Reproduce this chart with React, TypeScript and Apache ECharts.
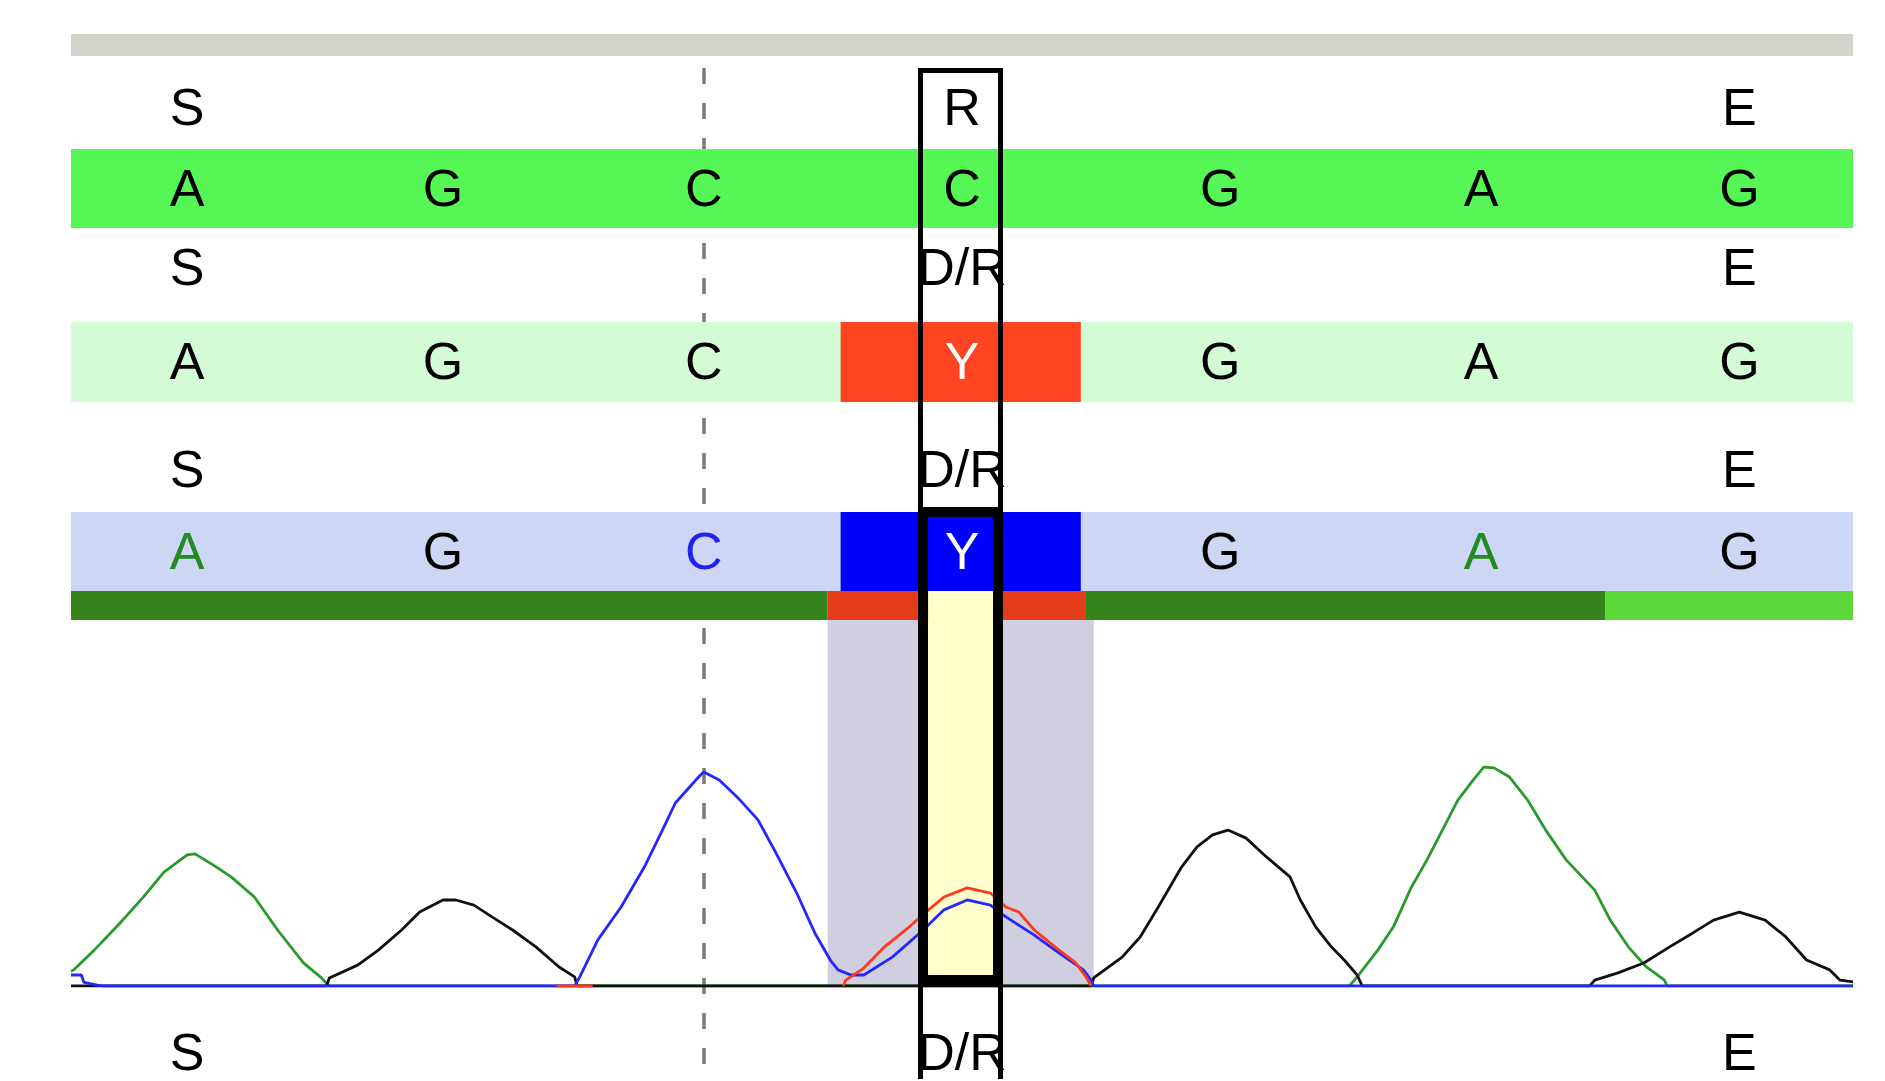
import React, { useEffect, useRef } from 'react';
import * as echarts from 'echarts';

// ---------- data (scan units along the trace, intensity 0..1000) ----------
const scanRange = [0, 690];
const basePositions = [45, 144, 245, 345, 445, 546, 646];
const referenceCalls = ['A', 'G', 'C', 'C', 'G', 'A', 'G'];
const sample1Calls = ['A', 'G', 'C', 'Y', 'G', 'A', 'G'];
const sample2Calls = ['A', 'G', 'C', 'Y', 'G', 'A', 'G'];
const referenceMarks = ['S', '', '', 'R', '', '', 'E'];
const sampleMarks = ['S', '', '', 'D/R', '', '', 'E'];
const mixedCallRange = [298, 391];
const qualityStarts = [0, 293, 393, 594];
const qualityEnds = [293, 393, 594, 690];
const qualityLevels = ['good', 'poor', 'good', 'high'];
const shadeRange = [293, 396];
const focusRange = [328, 361];
const guidePosition = 245;

const traceA = [
  [0, 40], [1, 44], [9, 98], [19, 172], [28, 243], [36, 311], [45, 358], [48, 361], [55, 331], [62, 298],
  [71, 243], [80, 153], [90, 63], [97, 22], [100, 0], [495, 0], [498, 25], [506, 98], [512, 161], [519, 270],
  [525, 344], [531, 426], [537, 508], [543, 563], [547, 598], [551, 596], [557, 571], [564, 508], [571, 426],
  [579, 344], [590, 262], [596, 180], [603, 107], [610, 52], [617, 16], [618, 0], [690, 0],
];
const traceG = [
  [0, 0], [99, 0], [100, 22], [111, 57], [119, 98], [128, 153], [135, 202], [144, 235], [149, 235], [156, 221],
  [163, 189], [171, 153], [180, 107], [189, 52], [195, 25], [196, 0], [395, 0], [396, 22], [407, 79], [414, 134],
  [421, 216], [430, 325], [436, 380], [442, 413], [448, 426], [455, 404], [463, 352], [472, 298], [476, 235],
  [482, 161], [488, 107], [493, 71], [498, 30], [500, 0], [588, 0], [590, 16], [599, 36], [609, 63], [619, 107],
  [628, 145], [636, 180], [646, 202], [656, 180], [664, 134], [672, 71], [681, 44], [685, 16], [690, 11],
];
const traceC = [
  [0, 30], [4, 30], [5, 10], [12, 0], [195, 0], [197, 25], [204, 126], [213, 216], [222, 325], [229, 426],
  [234, 500], [243, 571], [245, 585], [251, 563], [258, 516], [266, 454], [273, 363], [281, 254], [288, 145],
  [294, 71], [297, 44], [302, 30], [307, 30], [318, 79], [330, 153], [338, 208], [347, 235], [356, 221],
  [362, 189], [373, 139], [381, 98], [392, 44], [395, 16], [396, 0], [690, 0],
];
const traceT = [
  [188, 0], [202, 0], [250, '-'], [299, 0], [300, 16], [307, 49], [315, 107], [324, 158], [331, 202],
  [338, 243], [347, 268], [356, 254], [362, 216], [367, 202], [373, 153], [381, 107], [389, 63], [393, 25], [395, 0],
];

// ---------- layout & style ----------
const W = 1885;
const H = 1081;
const GRID_LEFT = 71;
const GRID_W = 1782;
const FONT = '"Liberation Sans", Arial, sans-serif';
const FONT_SIZE = 52;
const BAND_ROWS = [
  { y0: 34, y1: 56, color: '#D5D4CC' },
  { y0: 149, y1: 228, color: '#55F655' },
  { y0: 322, y1: 402, color: '#D4FCD4' },
  { y0: 512, y1: 591, color: '#CDD6F5' },
];
const CELL_ROWS = [
  { y0: 322, y1: 402, color: '#FF4422' },
  { y0: 512, y1: 591, color: '#0000FF' },
];
const QUALITY_Y = [591, 620];
const QUALITY_COLORS: Record<string, string> = { good: '#35841C', poor: '#E43B18', high: '#5DD83B' };
const BASE_COLORS: Record<string, string> = { A: '#228B22', C: '#2222EE', G: '#000000', T: '#FF2200', Y: '#FFFFFF' };

function xOf(api: any, v: number) {
  return api.coord([v, 0])[0];
}

function textRow(labels: string[], y: number, colorFn: (l: string) => string) {
  return {
    type: 'custom',
    xAxisIndex: 0,
    yAxisIndex: 0,
    z: 5,
    clip: false,
    silent: true,
    data: basePositions.map((p) => [p, 0]),
    renderItem: (params: any, api: any) => {
      const label = labels[params.dataIndex];
      if (!label) return null;
      return {
        type: 'text',
        x: xOf(api, api.value(0)),
        y,
        style: {
          text: label,
          fill: colorFn(label),
          fontSize: FONT_SIZE,
          fontFamily: FONT,
          align: 'center',
          verticalAlign: 'middle',
        },
      };
    },
  };
}

function buildOption(): any {
  const plain = () => '#000000';
  const onCell = (l: string) => (l === 'Y' ? '#FFFFFF' : '#000000');
  const byBase = (l: string) => BASE_COLORS[l] || '#000000';
  const traceWidth = 2.8;

  return {
    animation: false,
    backgroundColor: '#FFFFFF',
    grid: [
      { left: GRID_LEFT, width: GRID_W, top: 34, height: 586 },
      { left: GRID_LEFT, width: GRID_W, top: 620, height: 366 },
    ],
    xAxis: [
      { gridIndex: 0, type: 'value', min: scanRange[0], max: scanRange[1], show: false },
      { gridIndex: 1, type: 'value', min: scanRange[0], max: scanRange[1], show: false },
    ],
    yAxis: [
      { gridIndex: 0, type: 'value', min: 0, max: 1, show: false },
      { gridIndex: 1, type: 'value', min: 0, max: 1000, show: false },
    ],
    series: [
      // dashed guide line
      {
        type: 'custom', xAxisIndex: 0, yAxisIndex: 0, z: 1, clip: false, silent: true,
        data: [[guidePosition, 0]],
        renderItem: (_p: any, api: any) => {
          const x = Math.round(xOf(api, api.value(0)));
          return {
            type: 'line',
            shape: { x1: x, y1: 68, x2: x, y2: 1081 },
            style: { stroke: '#7A7A7A', lineWidth: 3.5, lineDash: [16, 19] },
          };
        },
      },
      // row bands
      {
        type: 'custom', xAxisIndex: 0, yAxisIndex: 0, z: 2, clip: false, silent: true,
        data: BAND_ROWS.map(() => [scanRange[0], scanRange[1]]),
        renderItem: (params: any, api: any) => {
          const r = BAND_ROWS[params.dataIndex];
          const x0 = xOf(api, api.value(0));
          const x1 = xOf(api, api.value(1));
          return { type: 'rect', shape: { x: x0, y: r.y0, width: x1 - x0, height: r.y1 - r.y0 }, style: { fill: r.color } };
        },
      },
      // mixed-call cells
      {
        type: 'custom', xAxisIndex: 0, yAxisIndex: 0, z: 3, clip: false, silent: true,
        data: CELL_ROWS.map(() => [mixedCallRange[0], mixedCallRange[1]]),
        renderItem: (params: any, api: any) => {
          const r = CELL_ROWS[params.dataIndex];
          const x0 = xOf(api, api.value(0));
          const x1 = xOf(api, api.value(1));
          return { type: 'rect', shape: { x: x0, y: r.y0, width: x1 - x0, height: r.y1 - r.y0 }, style: { fill: r.color } };
        },
      },
      // quality bar
      {
        type: 'custom', xAxisIndex: 0, yAxisIndex: 0, z: 3, clip: false, silent: true,
        data: qualityStarts.map((s, i) => [s, qualityEnds[i]]),
        renderItem: (params: any, api: any) => {
          const x0 = xOf(api, api.value(0));
          const x1 = xOf(api, api.value(1));
          return {
            type: 'rect',
            shape: { x: x0, y: QUALITY_Y[0], width: x1 - x0, height: QUALITY_Y[1] - QUALITY_Y[0] },
            style: { fill: QUALITY_COLORS[qualityLevels[params.dataIndex]] },
          };
        },
      },
      // shaded region in trace
      {
        type: 'custom', xAxisIndex: 1, yAxisIndex: 1, z: 3, clip: false, silent: true,
        data: [[shadeRange[0], shadeRange[1]]],
        renderItem: (_p: any, api: any) => {
          const a = api.coord([api.value(0), 1000]);
          const b = api.coord([api.value(1), 0]);
          return { type: 'rect', shape: { x: a[0], y: a[1], width: b[0] - a[0], height: b[1] - a[1] }, style: { fill: '#CFCFDF' } };
        },
      },
      // focus fill (yellow)
      {
        type: 'custom', xAxisIndex: 1, yAxisIndex: 1, z: 4, clip: false, silent: true,
        data: [[focusRange[0], focusRange[1]]],
        renderItem: (_p: any, api: any) => {
          const x0 = xOf(api, api.value(0)) + 10;
          const x1 = xOf(api, api.value(1)) - 10;
          return { type: 'rect', shape: { x: x0, y: 591, width: x1 - x0, height: 984 - 591 }, style: { fill: '#FFFFCC' } };
        },
      },
      // text rows
      textRow(referenceMarks, 107, plain),
      textRow(referenceCalls, 188, plain),
      textRow(sampleMarks, 267, plain),
      textRow(sample1Calls, 361, onCell),
      textRow(sampleMarks, 469, plain),
      textRow(sample2Calls, 551, byBase),
      textRow(sampleMarks, 1052, plain),
      // traces
      {
        name: 'A', type: 'line', xAxisIndex: 1, yAxisIndex: 1, z: 6, data: traceA, showSymbol: false, silent: true,
        lineStyle: { color: '#2A9A2A', width: traceWidth }, itemStyle: { color: '#2A9A2A' },
      },
      {
        name: 'G', type: 'line', xAxisIndex: 1, yAxisIndex: 1, z: 6, data: traceG, showSymbol: false, silent: true,
        lineStyle: { color: '#111111', width: traceWidth }, itemStyle: { color: '#111111' },
      },
      {
        name: 'C', type: 'line', xAxisIndex: 1, yAxisIndex: 1, z: 6, data: traceC, showSymbol: false, silent: true,
        lineStyle: { color: '#2626FF', width: traceWidth }, itemStyle: { color: '#2626FF' },
      },
      {
        name: 'T', type: 'line', xAxisIndex: 1, yAxisIndex: 1, z: 6, data: traceT, showSymbol: false, silent: true,
        connectNulls: false,
        lineStyle: { color: '#FF3A1A', width: traceWidth }, itemStyle: { color: '#FF3A1A' },
      },
      // focus box borders
      {
        type: 'custom', xAxisIndex: 1, yAxisIndex: 1, z: 7, clip: false, silent: true,
        data: [[focusRange[0], focusRange[1]]],
        renderItem: (_p: any, api: any) => {
          const x0 = Math.round(xOf(api, api.value(0)));
          const x1 = Math.round(xOf(api, api.value(1)));
          const w = x1 - x0;
          const k = '#000000';
          const r = (x: number, y: number, ww: number, hh: number) => ({
            type: 'rect', shape: { x, y, width: ww, height: hh }, style: { fill: k },
          });
          return {
            type: 'group',
            children: [
              r(x0, 68, w, 5),
              r(x0, 68, 5, 1079 - 68),
              r(x1 - 5, 68, 5, 1079 - 68),
              r(x0, 507, w, 10),
              r(x0, 507, 10, 987 - 507),
              r(x1 - 10, 507, 10, 987 - 507),
              r(x0, 975, w, 12),
            ],
          };
        },
      },
    ],
  };
}

export default function App() {
  const ref = useRef<HTMLDivElement>(null);
  useEffect(() => {
    if (!ref.current) return;
    const chart = echarts.init(ref.current, undefined, { renderer: 'svg' });
    chart.setOption(buildOption());
    return () => chart.dispose();
  }, []);
  return (
    <div
      ref={ref}
      style={{ position: 'fixed', left: 0, top: 0, width: W, height: H, background: '#FFFFFF' }}
    />
  );
}
